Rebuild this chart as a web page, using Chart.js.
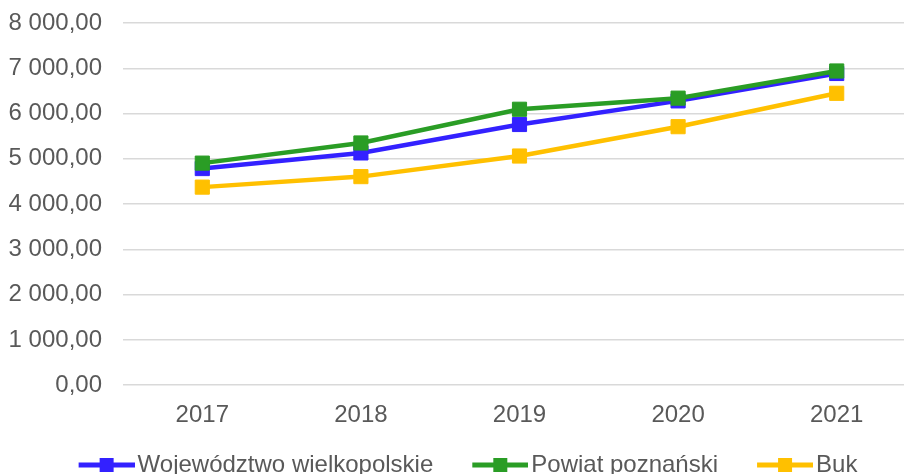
<!DOCTYPE html>
<html>
<head>
<meta charset="utf-8">
<script src="https://cdn.jsdelivr.net/npm/chart.js@4.4.1/dist/chart.umd.min.js"></script>
<style>
  html, body { margin: 0; padding: 0; background: #fff; overflow: hidden; }
  #wrap { width: 904px; height: 474px; overflow: hidden; }
  #myChart { margin-left: -15px; }
</style>
</head>
<body>
<div id="wrap"><canvas id="myChart" width="931" height="487"></canvas></div>
<script>
var years = ['2017', '2018', '2019', '2020', '2021'];
var wielkopolskie = [4785, 5130, 5758, 6280, 6885];
var poznanski = [4905, 5350, 6095, 6340, 6940];
var buk = [4375, 4607, 5062, 5710, 6447];
var yTicks = [0, 1000, 2000, 3000, 4000, 5000, 6000, 7000, 8000];

var seriesNames = ['Województwo wielkopolskie', 'Powiat poznański', 'Buk'];
var seriesColors = ['#3321ff', '#2a9d25', '#ffc000'];

function formatPl(v) {
  // 8000 -> "8 000,00"
  var parts = v.toFixed(2).split('.');
  var intPart = parts[0].replace(/\B(?=(\d{3})+(?!\d))/g, ' ');
  return intPart + ',' + parts[1];
}

// legend marker: line with a square in the middle
function legendMarker(color) {
  var c = document.createElement('canvas');
  c.width = 100;
  c.height = 16;
  var g = c.getContext('2d');
  g.fillStyle = color;
  g.fillRect(44, 5.5, 56, 5);
  g.fillRect(65, 1, 14, 14);
  return c;
}

Chart.defaults.font.family = '"Liberation Sans", Arial, sans-serif';
Chart.defaults.font.size = 24;
Chart.defaults.color = '#595959';

var datasets = [];
var values = [wielkopolskie, poznanski, buk];
var drawOrder = [2, 1, 3];
for (var i = 0; i < values.length; i++) {
  datasets.push({
    label: seriesNames[i],
    data: values[i],
    borderColor: seriesColors[i],
    backgroundColor: seriesColors[i],
    borderWidth: 4.5,
    pointStyle: 'rect',
    pointRadius: 10,
    pointBorderWidth: 1,
    pointHoverRadius: 10,
    fill: false,
    tension: 0,
    clip: false,
    order: drawOrder[i]
  });
}

const myChart = new Chart(document.getElementById('myChart'), {
  type: 'line',
  data: {
    labels: years,
    datasets: datasets
  },
  options: {
    responsive: false,
    animation: false,
    layout: {
      autoPadding: false,
      padding: { top: 23, right: 0, bottom: 0, left: 0 }
    },
    scales: {
      x: {
        offset: true,
        grid: { display: false },
        border: { display: false },
        ticks: { padding: 8 },
        afterFit: function (scale) {
          scale.paddingLeft = 0;
          scale.paddingRight = 0;
          scale.height = scale.height + 11;
        }
      },
      y: {
        min: 0,
        max: 8000,
        afterBuildTicks: function (scale) {
          scale.ticks = yTicks.map(function (v) { return { value: v }; });
        },
        afterFit: function (scale) {
          scale.width = 138;
          scale.paddingTop = 14;
          scale.paddingBottom = 14;
        },
        grid: { color: '#d9d9d9', lineWidth: 1.5, drawTicks: false },
        border: { display: false },
        ticks: {
          padding: 21,
          callback: function (value) { return formatPl(value); }
        }
      }
    },
    plugins: {
      tooltip: { enabled: false },
      legend: {
        position: 'bottom',
        labels: {
          usePointStyle: true,
          pointStyleWidth: 82,
          padding: 4,
          generateLabels: function (chart) {
            return chart.data.datasets.map(function (ds, idx) {
              return {
                text: ds.label,
                pointStyle: legendMarker(seriesColors[idx]),
                fillStyle: seriesColors[idx],
                strokeStyle: seriesColors[idx],
                lineWidth: 0,
                fontColor: '#595959',
                datasetIndex: idx,
                hidden: false
              };
            });
          }
        }
      }
    }
  }
});
</script>
</body>
</html>
